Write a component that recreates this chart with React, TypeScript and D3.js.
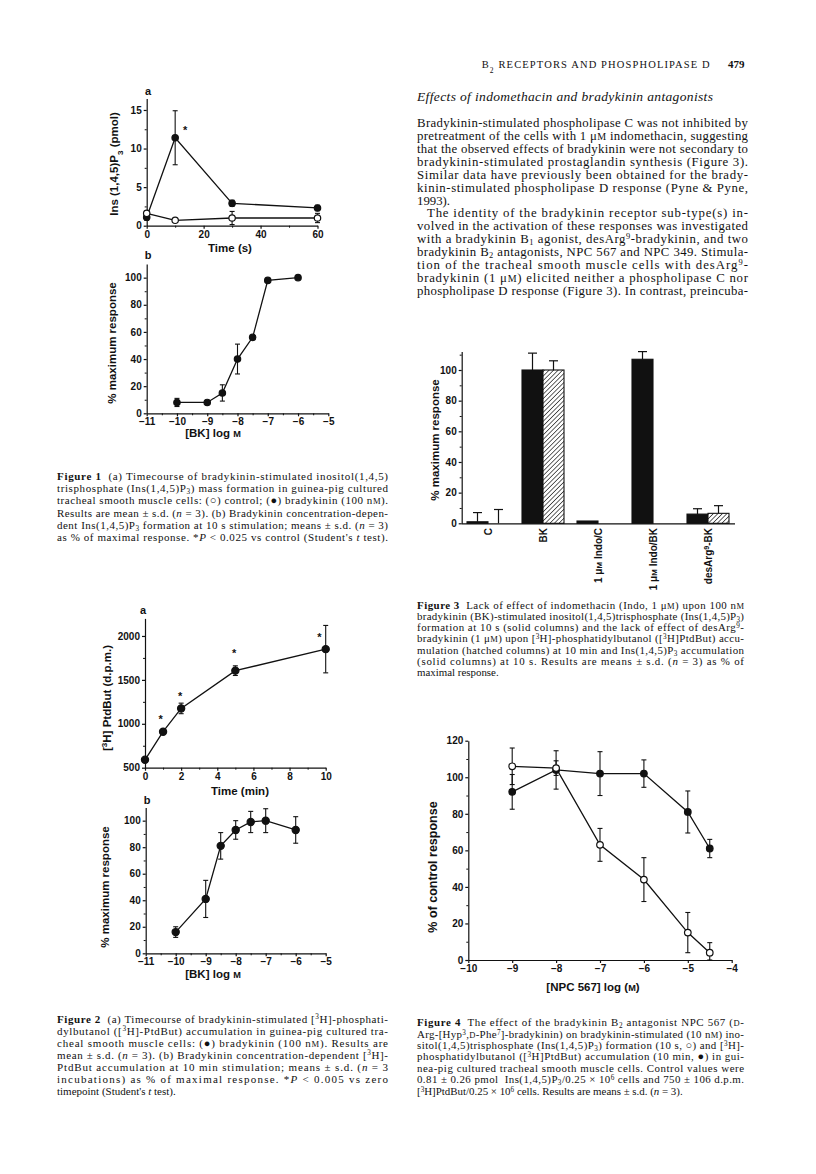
import React, { useEffect, useRef } from "react";
import * as d3 from "d3";

// ---- Figure 1a: Ins(1,4,5)P3 timecourse ----
const f1aTime = [0, 10, 30, 60];
const f1aBK = [1.1, 11.4, 2.9, 2.3];
const f1aBKsd = [0.4, 3.5, 0.4, 0.35];
const f1aCtl = [1.6, 0.7, 1.0, 1.0];
const f1aCtlsd = [0.3, 0.1, 0.85, 0.6];
const f1aStars = [[13.5, 12.8]];

// ---- Figure 1b: concentration response ----
const f1bLog = [-10, -9, -8.5, -8, -7.5, -7, -6];
const f1bResp = [8, 8, 15, 40, 56, 98, 100];
const f1bSd = [3, 1.2, 6, 11, 1, 1.5, 0.5];

// ---- Figure 2a: PtdBut timecourse ----
const f2aTime = [0, 1, 2, 5, 10];
const f2aDpm = [590, 910, 1175, 1605, 1850];
const f2aSd = [20, 20, 60, 55, 270];
const f2aStars = [[0.87, 1090], [1.94, 1354], [4.93, 1840], [9.65, 2023]];

// ---- Figure 2b ----
const f2bLog = [-10, -9, -8.5, -8, -7.5, -7, -6];
const f2bResp = [16, 41, 81, 93, 99, 100, 93];
const f2bSd = [4, 14, 10, 7, 8, 9, 10];

// ---- Figure 3: bars ----
const f3Cats = ["C", "BK", "1 μM Indo/C", "1 μM Indo/BK", "desArg9-BK"];
const f3Solid = [1, 100, 1.5, 107, 6];
const f3SolidSd = [6, 11, 0, 5, 3.5];
const f3Hatch = [0, 100, null, null, 6.5];
const f3HatchSd = [9, 6, null, null, 5];

// ---- Figure 4: NPC 567 ----
const f4Log = [-9, -8, -7, -6, -5, -4.5];
const f4Ins = [106, 105, 63, 44, 15, 4];
const f4InsSd = [10, 4, 9, 12, 11, 5.5];
const f4Ptd = [92, 104, 102, 102, 81, 61];
const f4PtdSd = [9.5, 10.5, 12, 7.5, 11.5, 5];

// ---- page text ----
const bodyLines = [
  "Bradykinin-stimulated phospholipase C was not inhibited by",
  "pretreatment of the cells with 1 μ{sc:M} indomethacin, suggesting",
  "that the observed effects of bradykinin were not secondary to",
  "bradykinin-stimulated prostaglandin synthesis (Figure 3).",
  "Similar data have previously been obtained for the brady-",
  "kinin-stimulated phospholipase D response (Pyne & Pyne,",
  "1993).",
  "The identity of the bradykinin receptor sub-type(s) in-",
  "volved in the activation of these responses was investigated",
  "with a bradykinin B{sub:1} agonist, desArg{sup:9}-bradykinin, and two",
  "bradykinin B{sub:2} antagonists, NPC 567 and NPC 349. Stimula-",
  "tion of the tracheal smooth muscle cells with desArg{sup:9}-",
  "bradykinin (1 μ{sc:M}) elicited neither a phospholipase C nor",
  "phospholipase D response (Figure 3). In contrast, preincuba-",
];

const cap1 = [
  "{b:Figure 1}  (a) Timecourse of bradykinin-stimulated inositol(1,4,5)",
  "trisphosphate (Ins(1,4,5)P{sub:3}) mass formation in guinea-pig cultured",
  "tracheal smooth muscle cells: (○) control; (●) bradykinin (100 n{sc:M}).",
  "Results are mean ± s.d. ({i:n} = 3). (b) Bradykinin concentration-depen-",
  "dent Ins(1,4,5)P{sub:3} formation at 10 s stimulation; means ± s.d. ({i:n} = 3)",
  "as % of maximal response. *{i:P} < 0.025 vs control (Student's {i:t} test).",
];

const cap2 = [
  "{b:Figure 2}  (a) Timecourse of bradykinin-stimulated [{sup:3}H]-phosphati-",
  "dylbutanol ([{sup:3}H]-PtdBut) accumulation in guinea-pig cultured tra-",
  "cheal smooth muscle cells: (●) bradykinin (100 n{sc:M}). Results are",
  "mean ± s.d. ({i:n} = 3). (b) Bradykinin concentration-dependent [{sup:3}H]-",
  "PtdBut accumulation at 10 min stimulation; means ± s.d. ({i:n} = 3",
  "incubations) as % of maximal response. *{i:P} < 0.005 vs zero",
  "timepoint (Student's {i:t} test).",
];

const cap3 = [
  "{b:Figure 3}  Lack of effect of indomethacin (Indo, 1 μ{sc:M}) upon 100 n{sc:M}",
  "bradykinin (BK)-stimulated inositol(1,4,5)trisphosphate (Ins(1,4,5)P{sub:3})",
  "formation at 10 s (solid columns) and the lack of effect of desArg{sup:9}-",
  "bradykinin (1 μ{sc:M}) upon [{sup:3}H]-phosphatidylbutanol ([{sup:3}H]PtdBut) accu-",
  "mulation (hatched columns) at 10 min and Ins(1,4,5)P{sub:3} accumulation",
  "(solid columns) at 10 s. Results are means ± s.d. ({i:n} = 3) as % of",
  "maximal response.",
];

const cap4 = [
  "{b:Figure 4}  The effect of the bradykinin B{sub:2} antagonist NPC 567 ({sc:D}-",
  "Arg-[Hyp{sup:3},{sc:D}-Phe{sup:7}]-bradykinin) on bradykinin-stimulated (10 n{sc:M}) ino-",
  "sitol(1,4,5)trisphosphate (Ins(1,4,5)P{sub:3}) formation (10 s, ○) and [{sup:3}H]-",
  "phosphatidylbutanol ([{sup:3}H]PtdBut) accumulation (10 min, ●) in gui-",
  "nea-pig cultured tracheal smooth muscle cells. Control values were",
  "0.81 ± 0.26 pmol  Ins(1,4,5)P{sub:3}/0.25 × 10{sup:6} cells and 750 ± 106 d.p.m.",
  "[{sup:3}H]PtdBut/0.25 × 10{sup:6} cells. Results are means ± s.d. ({i:n} = 3).",
];

const SANS = "'Liberation Sans', Arial, sans-serif";
const SERIF = "'Liberation Serif', 'Times New Roman', serif";
const INK = "#111";

// split "{b:..}" style markup into tspans
const Rich = ({ x, y, line, size, width, justify = true, italic = false }) => {
  const parts = [];
  const re = /\{(b|i|sup|sub|sc):([^}]*)\}/g;
  let last = 0;
  let m;
  while ((m = re.exec(line))) {
    if (m.index > last) parts.push({ k: "", t: line.slice(last, m.index) });
    parts.push({ k: m[1], t: m[2] });
    last = re.lastIndex;
  }
  if (last < line.length) parts.push({ k: "", t: line.slice(last) });
  return (
    <text
      x={x}
      y={y}
      fontSize={size}
      fontFamily={SERIF}
      fontStyle={italic ? "italic" : "normal"}
      fill={INK}
      textLength={justify ? width : undefined}
      lengthAdjust="spacing"
      style={{ whiteSpace: "pre" }}
    >
      {parts.map((p, i) => {
        if (p.k === "b") return <tspan key={i} fontWeight="bold">{p.t}</tspan>;
        if (p.k === "i") return <tspan key={i} fontStyle="italic">{p.t}</tspan>;
        if (p.k === "sup")
          return <tspan key={i} fontSize={size * 0.66} baselineShift={size * 0.32}>{p.t}</tspan>;
        if (p.k === "sub")
          return <tspan key={i} fontSize={size * 0.66} baselineShift={-size * 0.18}>{p.t}</tspan>;
        if (p.k === "sc") return <tspan key={i} fontSize={size * 0.78}>{p.t}</tspan>;
        return <tspan key={i}>{p.t}</tspan>;
      })}
    </text>
  );
};

const Block = ({ lines, x, y0, step, size, width, lastFree = true, indent = {} }) => (
  <g>
    {lines.map((l, i) => (
      <Rich
        key={i}
        x={x + (indent[i] || 0)}
        y={y0 + i * step}
        line={l}
        size={size}
        width={width - (indent[i] || 0)}
        justify={!(lastFree && i === lines.length - 1) && l !== "1993)."}
      />
    ))}
  </g>
);

function drawAxis(svg, scale, side, at, major, minor) {
  const mk = side === "bottom" ? d3.axisBottom : d3.axisLeft;
  const g = svg
    .append("g")
    .attr("transform", side === "bottom" ? `translate(0,${at})` : `translate(${at},0)`);
  g.call(mk(scale).tickValues(major).tickSize(3).tickSizeOuter(0).tickPadding(2).tickFormat(d3.format("")));
  if (minor) {
    const gm = svg
      .append("g")
      .attr("transform", side === "bottom" ? `translate(0,${at})` : `translate(${at},0)`);
    gm.call(mk(scale).tickValues(minor).tickSize(2).tickFormat(() => ""));
    gm.select(".domain").remove();
    gm.selectAll("line").attr("stroke", INK).attr("stroke-width", 1);
  }
  g.attr("font-family", SANS).attr("font-size", 10);
  g.selectAll("path,line").attr("stroke", INK).attr("stroke-width", 1.2);
  g.selectAll("text").attr("font-weight", "bold").attr("fill", INK);
  return g;
}

function drawSeries(svg, x, y, xs, ys, sds, filled, r = 3.2) {
  const pts = xs.map((v, i) => [x(v), y(ys[i])]);
  svg
    .append("path")
    .attr("d", d3.line()(pts))
    .attr("fill", "none")
    .attr("stroke", INK)
    .attr("stroke-width", 1.3);
  const lo = y.domain()[0];
  xs.forEach((v, i) => {
    const sd = sds[i];
    if (!sd) return;
    const cx = x(v);
    const y1 = y(ys[i] + sd);
    const y0 = y(Math.max(ys[i] - sd, lo));
    svg.append("line").attr("x1", cx).attr("x2", cx).attr("y1", y0).attr("y2", y1)
      .attr("stroke", INK).attr("stroke-width", 1.1);
    [y0, y1].forEach((yy) =>
      svg.append("line").attr("x1", cx - 2.5).attr("x2", cx + 2.5).attr("y1", yy).attr("y2", yy)
        .attr("stroke", INK).attr("stroke-width", 1.1)
    );
  });
  svg
    .selectAll(null)
    .data(pts)
    .join("circle")
    .attr("cx", (d) => d[0])
    .attr("cy", (d) => d[1])
    .attr("r", r)
    .attr("fill", filled ? INK : "#fff")
    .attr("stroke", INK)
    .attr("stroke-width", 1.2);
}

function label(svg, x, y, txt, size = 11.5, rotate = false) {
  const t = svg
    .append("text")
    .attr("font-family", SANS)
    .attr("font-weight", "bold")
    .attr("font-size", size)
    .attr("fill", INK)
    .attr("text-anchor", "middle");
  if (rotate) t.attr("transform", `translate(${x},${y}) rotate(-90)`).attr("dy", "0.35em");
  else t.attr("x", x).attr("y", y).attr("dy", "0.35em");
  if (txt) t.text(txt);
  return t;
}

function richLabel(t, parts) {
  parts.forEach(([s, kind]) => {
    const ts = t.append("tspan").text(s);
    if (kind === "sub") ts.attr("font-size", "70%").attr("baseline-shift", "sub");
    if (kind === "sup") ts.attr("font-size", "70%").attr("baseline-shift", "super");
    if (kind === "sc") ts.attr("font-size", "80%");
  });
}

function stars(svg, x, y, list) {
  list.forEach(([a, b]) =>
    svg.append("text").attr("x", x(a)).attr("y", y(b)).attr("dy", "0.62em")
      .attr("text-anchor", "middle").attr("font-family", SANS).attr("font-size", 11)
      .attr("font-weight", "bold").attr("fill", INK).text("*")
  );
}

const App = () => {
  const svgRef = useRef(null);

  useEffect(() => {
    const root = d3.select(svgRef.current).select("g.charts");
    root.selectAll("*").remove();

    // Figure 1a
    const x1a = d3.scaleLinear().domain([0, 60]).range([146.7, 317.5]);
    const y1a = d3.scaleLinear().domain([0, 16.5]).range([225.7, 98.4]);
    drawAxis(root, x1a, "bottom", 225.7, [0, 20, 40, 60], [10, 30, 50]);
    drawAxis(root, y1a, "left", 146.7, [0, 5, 10, 15], [2.5, 7.5, 12.5]);
    drawSeries(root, x1a, y1a, f1aTime, f1aBK, f1aBKsd, true);
    drawSeries(root, x1a, y1a, f1aTime, f1aCtl, f1aCtlsd, false);
    stars(root, x1a, y1a, f1aStars);
    label(root, 148, 91.5, "a", 11);
    label(root, 230, 247.5, "Time (s)");
    richLabel(label(root, 114, 164, "", 11.5, true), [["Ins (1,4,5)P"], ["3", "sub"], [" (pmol)"]]);

    // Figure 1b
    const x1b = d3.scaleLinear().domain([-11, -5]).range([146.7, 328.3]);
    const y1b = d3.scaleLinear().domain([0, 110]).range([413.3, 264.1]);
    drawAxis(root, x1b, "bottom", 413.3, d3.range(-11, -4), d3.range(-10.5, -5, 1));
    drawAxis(root, y1b, "left", 146.7, d3.range(0, 101, 20), d3.range(10, 100, 20));
    drawSeries(root, x1b, y1b, f1bLog, f1bResp, f1bSd, true);
    label(root, 148, 255, "b", 11);
    richLabel(label(root, 213, 433, ""), [["[BK] log "], ["M", "sc"]]);
    label(root, 112, 343, "% maximum response", 11.5, true);

    // Figure 2a
    const x2a = d3.scaleLinear().domain([0, 10]).range([145, 325.7]);
    const y2a = d3.scaleLinear().domain([500, 2200]).range([767.7, 618.4]);
    drawAxis(root, x2a, "bottom", 767.7, d3.range(0, 11, 2), d3.range(1, 10, 2));
    drawAxis(root, y2a, "left", 145, [500, 1000, 1500, 2000], [750, 1250, 1750]);
    drawSeries(root, x2a, y2a, f2aTime, f2aDpm, f2aSd, true, 3.6);
    stars(root, x2a, y2a, f2aStars);
    label(root, 143, 610, "a", 11);
    label(root, 240, 791, "Time (min)");
    richLabel(label(root, 107, 698, "", 11.5, true), [["["], ["3", "sup"], ["H] PtdBut (d.p.m.)"]]);

    // Figure 2b
    const x2b = d3.scaleLinear().domain([-11, -5]).range([145.7, 325.7]);
    const y2b = d3.scaleLinear().domain([0, 110]).range([953.3, 807.4]);
    drawAxis(root, x2b, "bottom", 953.3, d3.range(-11, -4), d3.range(-10.5, -5, 1));
    drawAxis(root, y2b, "left", 145.7, d3.range(0, 101, 20), d3.range(10, 100, 20));
    drawSeries(root, x2b, y2b, f2bLog, f2bResp, f2bSd, true, 3.6);
    label(root, 147, 800, "b", 11);
    richLabel(label(root, 213, 974, ""), [["[BK] log "], ["M", "sc"]]);
    label(root, 105, 887, "% maximum response", 11.5, true);

    // Figure 3
    const x3 = d3.scalePoint().domain(f3Cats).range([488, 708]);
    const y3 = d3.scaleLinear().domain([0, 112]).range([523.3, 351.6]);
    const bw = 21;
    const defs = d3.select(svgRef.current).select("defs");
    defs.selectAll("*").remove();
    const pat = defs.append("pattern").attr("id", "hatch").attr("width", 3.2).attr("height", 3.2)
      .attr("patternUnits", "userSpaceOnUse").attr("patternTransform", "rotate(45)");
    pat.append("rect").attr("width", 3.2).attr("height", 3.2).attr("fill", "#fff");
    pat.append("line").attr("x1", 0).attr("x2", 0).attr("y1", 0).attr("y2", 3.2)
      .attr("stroke", INK).attr("stroke-width", 1.3);
    const bars = [];
    f3Cats.forEach((c, i) => {
      bars.push({ x: x3(c) - bw, v: f3Solid[i], sd: f3SolidSd[i], fill: INK });
      if (f3Hatch[i] !== null) bars.push({ x: x3(c), v: f3Hatch[i], sd: f3HatchSd[i], fill: "url(#hatch)" });
    });
    bars.forEach((b) => {
      const cx = b.x + bw / 2;
      if (b.sd) {
        root.append("line").attr("x1", cx).attr("x2", cx).attr("y1", y3(b.v)).attr("y2", y3(b.v + b.sd))
          .attr("stroke", INK).attr("stroke-width", 1.2);
        root.append("line").attr("x1", cx - 4.5).attr("x2", cx + 4.5).attr("y1", y3(b.v + b.sd)).attr("y2", y3(b.v + b.sd))
          .attr("stroke", INK).attr("stroke-width", 1.2);
      }
      if (b.v > 0)
        root.append("rect").attr("x", b.x).attr("y", y3(b.v)).attr("width", bw).attr("height", y3(0) - y3(b.v))
          .attr("fill", b.fill).attr("stroke", INK).attr("stroke-width", 1.1);
    });
    root.append("line").attr("x1", 461.7).attr("x2", 735).attr("y1", 523.8).attr("y2", 523.8)
      .attr("stroke", INK).attr("stroke-width", 1.2);
    drawAxis(root, y3, "left", 461.7, d3.range(0, 101, 20), d3.range(10, 111, 20));
    f3Cats.forEach((c) => {
      const t = root.append("text").attr("transform", `translate(${x3(c)},528) rotate(-90)`)
        .attr("dy", "0.35em").attr("text-anchor", "end").attr("font-family", SANS)
        .attr("font-size", 10).attr("font-weight", "bold").attr("fill", INK);
      if (c.startsWith("1 μM")) richLabel(t, [["1 μ"], ["M", "sc"], [c.slice(4)]]);
      else if (c.startsWith("desArg")) richLabel(t, [["desArg"], ["9", "sup"], ["-BK"]]);
      else t.text(c);
    });
    label(root, 435, 440, "% maximum response", 11.5, true);

    // Figure 4
    const x4 = d3.scaleLinear().domain([-10, -4]).range([468.3, 731.7]);
    const y4 = d3.scaleLinear().domain([0, 120]).range([960, 740.7]);
    drawAxis(root, x4, "bottom", 960, d3.range(-10, -3), null);
    drawAxis(root, y4, "left", 468.3, d3.range(0, 121, 20), d3.range(10, 120, 20));
    drawSeries(root, x4, y4, f4Log, f4Ptd, f4PtdSd, true, 3.3);
    drawSeries(root, x4, y4, f4Log, f4Ins, f4InsSd, false, 3.3);
    label(root, 433, 867, "% of control response", 12.5, true);
    richLabel(label(root, 593, 987, ""), [["[NPC 567] log ("], ["M", "sc"], [")"]]);
  }, []);

  return (
    <svg
      ref={svgRef}
      width={816}
      height={1174}
      style={{ position: "absolute", left: 0, top: 0, background: "#fff" }}
    >
      <defs />
      <rect width={816} height={1174} fill="#fff" />

      {/* running head */}
      <text x={481.7} y={67.5} fontFamily={SERIF} fontSize={10.5} fill={INK} textLength={228} lengthAdjust="spacing">
        B<tspan fontSize={7.5} baselineShift="sub">2</tspan> RECEPTORS AND PHOSPHOLIPASE D
      </text>
      <text x={728} y={67.5} fontFamily={SERIF} fontSize={11} fontWeight="bold" fill={INK}>479</text>

      <Rich x={417} y={101} line="Effects of indomethacin and bradykinin antagonists" size={13.5} width={296} italic />
      <Block lines={bodyLines} x={417} y0={126.7} step={12.97} size={12.8} width={331} lastFree={false} indent={{ 7: 10 }} />

      <Block lines={cap1} x={57} y0={480.2} step={12.1} size={11} width={331} lastFree={false} />
      <Block lines={cap2} x={57} y0={1022.5} step={12} size={11} width={331} />
      <Block lines={cap3} x={417} y0={608.5} step={11.32} size={10.9} width={327} />
      <Block lines={cap4} x={417} y0={1026.2} step={11.4} size={10.9} width={327} />

      <g className="charts" />
    </svg>
  );
};

export default App;
